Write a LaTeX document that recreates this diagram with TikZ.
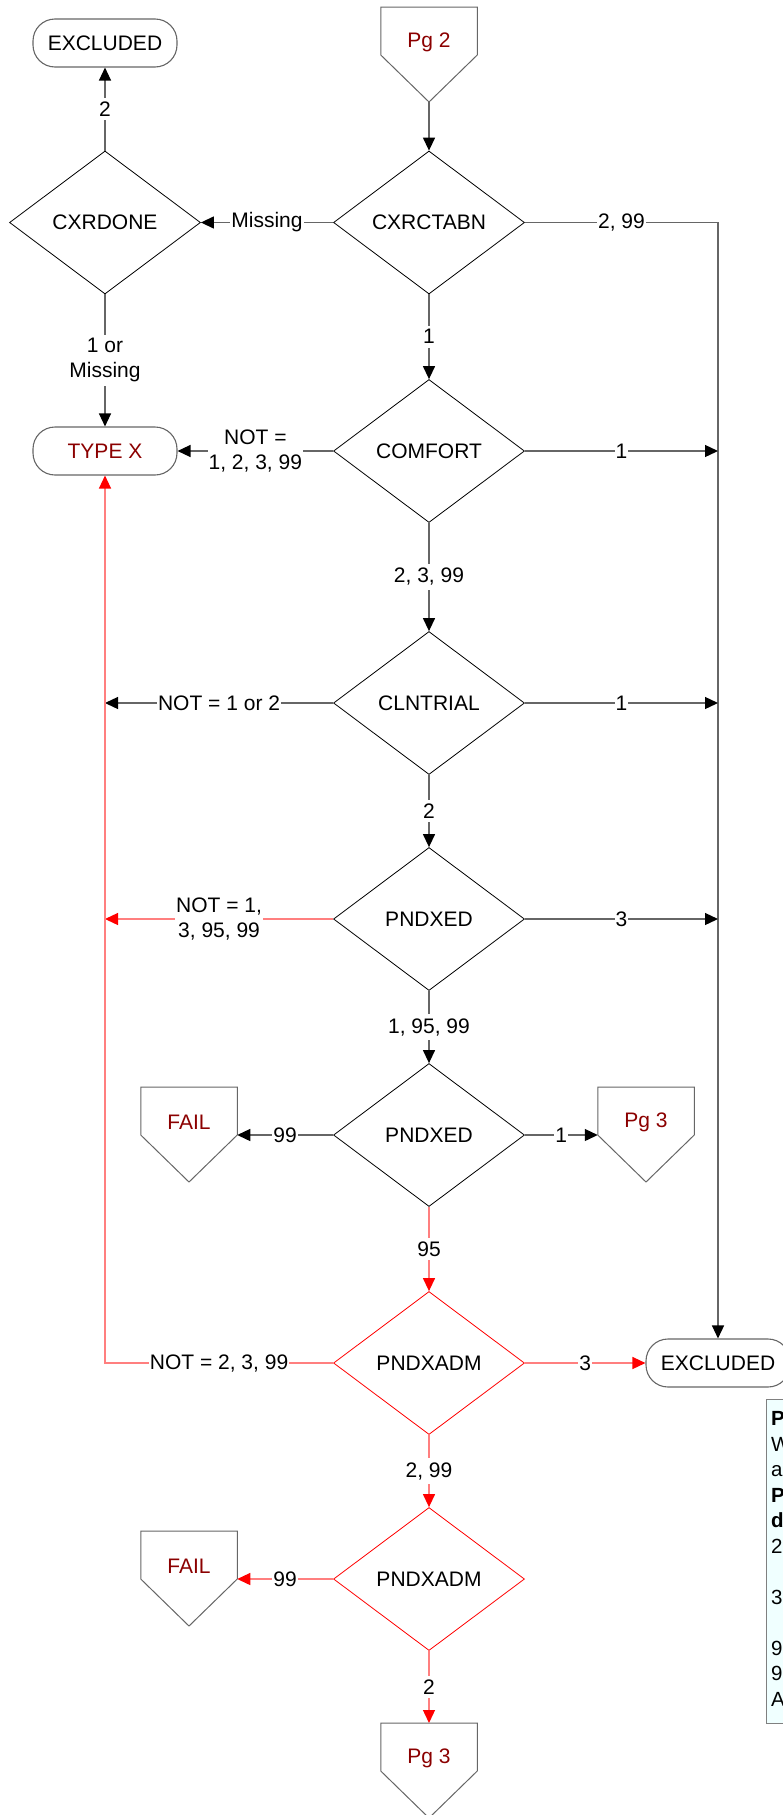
\documentclass[tikz,border=0pt]{standalone}
\usepackage{fontspec}
\setmainfont{Liberation Sans}
\usetikzlibrary{shapes.geometric,arrows.meta}
\definecolor{dred}{HTML}{8B0000}
\definecolor{lred}{HTML}{FF7F7F}
\definecolor{notefill}{HTML}{F0FFFF}
\newcommand{\myoffpg}[4]{%
  \draw[offline] (#2-48.25,#3) -- (#2+48.25,#3) -- (#2+48.25,#3+48) -- (#2,#3+95) -- (#2-48.25,#3+48) -- cycle;
  \node[offtext] (#1) at (#2,#3+35) {#4};
  \coordinate (#1-top) at (#2,#3);
  \coordinate (#1-tip) at (#2,#3+95);
  \coordinate (#1-r) at (#2+48.25,#3+48);
  \coordinate (#1-l) at (#2-48.25,#3+48);
}
\begin{document}
\begin{tikzpicture}[x={(1pt,0pt)},y={(0pt,-1pt)},
  every node/.style={font=\fontsize{21}{25}\selectfont},
  dec/.style={diamond, draw=black, line width=0.8pt, minimum width=191pt, minimum height=143pt, inner sep=0pt},
  decred/.style={dec, draw=red},
  term/.style={rectangle, rounded corners=22pt, draw=black!60, line width=1.1pt, minimum width=144pt, minimum height=48pt, inner sep=0pt},
  conn/.style={draw=black!60, line width=1.3pt, -{Triangle[length=13pt,width=12pt,color=black]}},
  connr/.style={draw=lred, line width=1.3pt, -{Triangle[length=13pt,width=12pt,color=red]}},
  lab/.style={fill=white, inner xsep=1pt, inner ysep=4pt, align=center},
  offtext/.style={text=dred, inner sep=0pt},
  offline/.style={draw=black!60, line width=1pt},
  notebox/.style={draw=black!50, fill=notefill, line width=1.1pt, anchor=north west, inner sep=0pt, minimum width=100pt, minimum height=324pt},
]
\useasboundingbox (0,0) rectangle (783,1815);
\clip (0,0) rectangle (783,1815);

% nodes
\node[term] (excl1) at (105,43) {EXCLUDED};
\myoffpg{pg2}{429}{7}{Pg 2}
\node[dec] (cxr) at (429,222.5) {CXRCTABN};
\node[dec] (cxrd) at (105,222.5) {CXRDONE};
\node[term, text=dred] (typex) at (105,451) {TYPE X};
\node[dec] (comf) at (429,451) {COMFORT};
\node[dec] (cln) at (429,703) {CLNTRIAL};
\node[dec] (pnd1) at (429,919) {PNDXED};
\node[dec] (pnd2) at (429,1135) {PNDXED};
\myoffpg{fail1}{189}{1087}{FAIL}
\myoffpg{pg3a}{646}{1087}{Pg 3}
\node[decred] (adm1) at (429,1363) {PNDXADM};
\node[term] (excl2) at (718,1363) {EXCLUDED};
\node[decred] (adm2) at (429,1579) {PNDXADM};
\myoffpg{fail2}{189}{1531}{FAIL}
\myoffpg{pg3b}{429}{1723}{Pg 3}

% note box
\node[notebox] (note) at (766,1399) {};
\node[anchor=north west, align=left, inner sep=0pt, font=\fontsize{20.5}{25.5}\selectfont] (notetxt) at (771,1411.5)
  {\textbf{P}\\W\\a\\\textbf{P}\\\textbf{d}\\2\\\mbox{}\\3\\\mbox{}\\9\\9\\A};

% connectors
\draw[conn] (pg2-tip) -- (cxr.north);
\draw[conn] (cxr.west) -- node[lab] {Missing} (cxrd.east);
\draw[conn] (cxrd.north) -- node[lab] {2} (excl1.south);
\draw[conn] (cxrd.south) -- node[lab] {1 or\\Missing} (typex.north);
\draw[conn] (cxr.south) -- node[lab] {1} (comf.north);
\draw[conn] (cxr.east) -- node[lab] {2, 99} (cxr.east -| excl2.north) -- (excl2.north);
\draw[conn] (comf.west) -- node[lab] {NOT =\\1, 2, 3, 99} (typex.east);
\draw[conn] (comf.east) -- node[lab] {1} (comf.east -| excl2.north);
\draw[conn] (comf.south) -- node[lab] {2, 3, 99} (cln.north);
\draw[conn] (cln.west) -- node[lab] {NOT = 1 or 2} (cln.west -| typex.south);
\draw[conn] (cln.east) -- node[lab] {1} (cln.east -| excl2.north);
\draw[conn] (cln.south) -- node[lab] {2} (pnd1.north);
\draw[connr] (pnd1.west) -- node[lab] {NOT = 1,\\3, 95, 99} (pnd1.west -| typex.south);
\draw[conn] (pnd1.east) -- node[lab] {3} (pnd1.east -| excl2.north);
\draw[conn] (pnd1.south) -- node[lab] {1, 95, 99} (pnd2.north);
\draw[conn] (pnd2.west) -- node[lab] {99} (fail1-r);
\draw[conn] (pnd2.east) -- node[lab] {1} (pg3a-l);
\draw[connr] (pnd2.south) -- node[lab] {95} (adm1.north);
\draw[connr] (adm1.west) -- node[lab] {NOT = 2, 3, 99} (adm1.west -| typex.south) -- (typex.south);
\draw[connr] (adm1.east) -- node[lab] {3} (excl2.west);
\draw[connr] (adm1.south) -- node[lab] {2, 99} (adm2.north);
\draw[connr] (adm2.west) -- node[lab] {99} (fail2-r);
\draw[connr] (adm2.south) -- node[lab] {2} (pg3b-top);
\end{tikzpicture}
\end{document}
